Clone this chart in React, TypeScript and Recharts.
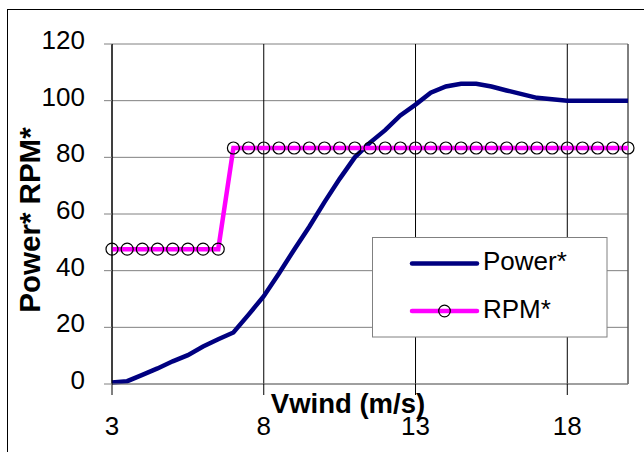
import React from "react";
import {
  LineChart,
  Line,
  XAxis,
  YAxis,
  CartesianGrid,
  Legend,
  ReferenceLine,
} from "recharts";

// Wind speed (m/s) at which each point is sampled
const windSpeeds = [
  3, 3.5, 4, 4.5, 5, 5.5, 6, 6.5, 7, 7.5, 8, 8.5, 9, 9.5, 10, 10.5, 11, 11.5,
  12, 12.5, 13, 13.5, 14, 14.5, 15, 15.5, 16, 16.5, 17, 17.5, 18, 18.5, 19,
  19.5, 20,
];

// Normalised power output (%)
const powerValues = [
  0.5, 1.0, 3.2, 5.5, 8.0, 10.2, 13.2, 15.8, 18.2, 24.5, 31.0, 39.0, 47.4,
  55.5, 64.2, 72.4, 80.0, 85.2, 89.6, 94.8, 98.6, 102.8, 105.0, 106.0, 106.0,
  105.0, 103.6, 102.3, 101.0, 100.5, 100, 100, 100, 100, 100,
];

// Normalised rotor speed (%)
const rpmValues = [
  47.6, 47.6, 47.6, 47.6, 47.6, 47.6, 47.6, 47.6, 83.3, 83.3, 83.3, 83.3,
  83.3, 83.3, 83.3, 83.3, 83.3, 83.3, 83.3, 83.3, 83.3, 83.3, 83.3, 83.3,
  83.3, 83.3, 83.3, 83.3, 83.3, 83.3, 83.3, 83.3, 83.3, 83.3, 83.3,
];

const xTicks = [3, 8, 13, 18];
const yTicks = [0, 20, 40, 60, 80, 100, 120];

const data = windSpeeds.map((v, i) => ({
  v,
  power: powerValues[i],
  rpm: rpmValues[i],
}));

const FONT = "'Liberation Sans', Arial, sans-serif";
const NAVY = "#000080";
const MAGENTA = "#FF00FF";

const YTick = (props: any) => {
  const { x, y, payload } = props;
  return (
    <text
      x={x}
      y={y + 5}
      textAnchor="end"
      fontFamily={FONT}
      fontSize={26}
      fill="#000"
    >
      {payload.value}
    </text>
  );
};

const XTick = (props: any) => {
  const { x, y, payload } = props;
  return (
    <text
      x={x}
      y={y + 38}
      textAnchor="middle"
      fontFamily={FONT}
      fontSize={26}
      fill="#000"
    >
      {payload.value}
    </text>
  );
};

const XTitle = (props: any) => {
  const { viewBox } = props;
  return (
    <text
      x={viewBox.x + 236}
      y={viewBox.y + 29}
      textAnchor="middle"
      fontFamily={FONT}
      fontWeight="bold"
      fontSize={27.5}
      fill="#000"
    >
      Vwind (m/s)
    </text>
  );
};

const YTitle = () => (
  <text
    x={40}
    y={220}
    transform="rotate(-90 40 220)"
    textAnchor="middle"
    fontFamily={FONT}
    fontWeight="bold"
    fontSize={29.5}
    fill="#000"
  >
    Power* RPM*
  </text>
);

const LegendBox = (props: any) => {
  const items = props.payload || [];
  return (
    <svg width={236} height={101} style={{ display: "block" }}>
      <rect
        x={0.5}
        y={0.5}
        width={234.5}
        height={99.5}
        fill="#fff"
        stroke="#808080"
        strokeWidth={1}
      />
      {items.map((item: any, i: number) => {
        const cy = 26.5 + i * 47.5;
        return (
          <g key={item.value}>
            <line
              x1={40}
              x2={105}
              y1={cy}
              y2={cy}
              stroke={item.color}
              strokeWidth={4.5}
              strokeLinecap="round"
            />
            {item.dataKey === "rpm" && (
              <circle
                cx={72.5}
                cy={cy}
                r={5.8}
                fill="none"
                stroke="#000"
                strokeWidth={1.2}
              />
            )}
            <text
              x={111}
              y={cy + 6.8}
              fontFamily={FONT}
              fontSize={26}
              fill="#000"
            >
              {item.value}
            </text>
          </g>
        );
      })}
    </svg>
  );
};

export default function App() {
  return (
    <div
      style={{
        position: "absolute",
        left: 0,
        top: 0,
        width: 644,
        height: 452,
        overflow: "hidden",
        background: "#fff",
      }}
    >
      <div
        style={{
          position: "absolute",
          left: 7,
          top: 9,
          width: 700,
          height: 500,
          border: "1px solid #000",
        }}
      />
      <div style={{ position: "absolute", left: 0, top: 0 }}>
        <LineChart
          width={644}
          height={452}
          data={data}
          margin={{ top: 44, right: 16, bottom: 0, left: 0 }}
        >
          <CartesianGrid
            vertical={false}
            stroke="#808080"
            strokeWidth={1}
          />
          <CartesianGrid horizontal={false} stroke="#000" strokeWidth={1} />
          <ReferenceLine x={20} stroke="#808080" strokeWidth={1} />
          <XAxis
            dataKey="v"
            type="number"
            domain={[3, 20]}
            ticks={xTicks}
            interval={0}
            height={68}
            tickSize={11}
            tickMargin={2}
            axisLine={{ stroke: "#808080", strokeWidth: 1 }}
            tickLine={{ stroke: "#000", strokeWidth: 1 }}
            tick={<XTick />}
            label={<XTitle />}
          />
          <YAxis
            type="number"
            domain={[0, 120]}
            ticks={yTicks}
            interval={0}
            width={112}
            tickSize={8}
            tickMargin={19}
            axisLine={{ stroke: "#000", strokeWidth: 1 }}
            tickLine={{ stroke: "#808080", strokeWidth: 1 }}
            tick={<YTick />}
            label={<YTitle />}
          />
          <Legend
            layout="vertical"
            align="center"
            verticalAlign="middle"
            content={<LegendBox />}
            wrapperStyle={{
              position: "absolute",
              left: 372,
              top: 237,
              width: 236,
              height: 101,
            }}
          />
          <Line
            name="Power*"
            dataKey="power"
            type="linear"
            stroke={NAVY}
            strokeWidth={4.5}
            dot={false}
            activeDot={false}
            isAnimationActive={false}
          />
          <Line
            name="RPM*"
            dataKey="rpm"
            type="linear"
            stroke={MAGENTA}
            strokeWidth={4.5}
            dot={{ r: 6, fill: "none", stroke: "#000", strokeWidth: 1.2 }}
            activeDot={false}
            isAnimationActive={false}
          />
        </LineChart>
      </div>
    </div>
  );
}
